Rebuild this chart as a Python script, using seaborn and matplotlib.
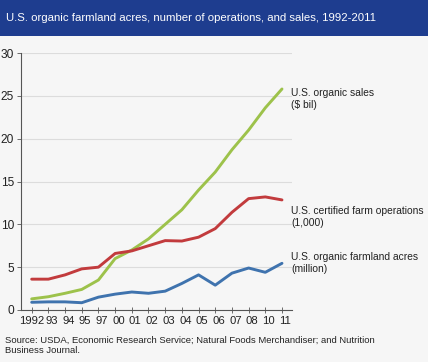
import matplotlib
matplotlib.use("Agg")
import matplotlib.pyplot as plt
import matplotlib.transforms as mtransforms
import pandas as pd
import seaborn as sns

# x-axis categories (uneven years, evenly spaced on the chart)
years = ["1992", "93", "94", "95", "97", "00", "01", "02",
         "03", "04", "05", "06", "07", "08", "10", "11"]

sales = [1.3, 1.55, 1.95, 2.4, 3.5, 6.0, 7.0, 8.3,
         10.0, 11.7, 14.0, 16.1, 18.7, 21.0, 23.6, 25.8]
operations = [3.6, 3.6, 4.1, 4.8, 5.0, 6.6, 6.9, 7.5,
              8.1, 8.05, 8.5, 9.5, 11.4, 13.0, 13.2, 12.85]
acres = [0.9, 0.95, 0.95, 0.85, 1.5, 1.85, 2.1, 1.95,
         2.2, 3.1, 4.1, 2.9, 4.3, 4.9, 4.4, 5.45]

series_names = ["U.S. organic sales\n($ bil)",
                "U.S. certified farm operations\n(1,000)",
                "U.S. organic farmland acres\n(million)"]
colors = ["#9dc24b", "#c23b3d", "#3f73ae"]

rows = []
for name, vals in zip(series_names, [sales, operations, acres]):
    for i, v in enumerate(vals):
        rows.append({"pos": i, "value": v, "series": name})
df = pd.DataFrame(rows)

sns.set_theme(style="white")
plt.rcParams['font.family'] = ['Liberation Sans', 'DejaVu Sans']

fig = plt.figure(figsize=(4.28, 3.62), dpi=100)
fig.patch.set_facecolor("#f6f6f6")

# title banner
fig.patches.append(plt.Rectangle((0, 1 - 36 / 362), 1, 36 / 362, transform=fig.transFigure,
                                 facecolor="#1e3d8f", edgecolor="none", zorder=0))
fig.text(6 / 428, 1 - 18 / 362, "U.S. organic farmland acres, number of operations, and sales, 1992-2011",
         color="white", fontsize=8.2, va="center", ha="left")

ax = fig.add_axes([21 / 428, 1 - 310 / 362, (292 - 21) / 428, (310 - 53) / 362])
ax.set_facecolor("#f6f6f6")

sns.lineplot(data=df, x="pos", y="value", hue="series", palette=colors,
             linewidth=2.1, legend=False, ax=ax)

ax.set_xlim(-0.64, 15.6)
ax.set_ylim(0, 30)
ax.set_yticks([0, 5, 10, 15, 20, 25, 30])
ax.set_xticks(range(len(years)))
ax.set_xticklabels(years)
ax.set_xlabel("")
ax.set_ylabel("")
ax.yaxis.grid(True, color="#dcdcdc", linewidth=0.8)
ax.set_axisbelow(True)
for s in ["top", "right"]:
    ax.spines[s].set_visible(False)
ax.spines["left"].set_color("#555555")
ax.spines["bottom"].set_color("#555555")
ax.spines["left"].set_linewidth(0.8)
ax.spines["bottom"].set_linewidth(0.8)
ax.tick_params(axis="x", direction="inout", length=4, width=0.6, colors="#555555",
               labelcolor="#222222", labelsize=8.1, pad=2)
ax.tick_params(axis="y", direction="out", length=3, width=0.6, colors="#555555",
               labelcolor="#222222", labelsize=8.6, pad=2, left=True)
ax.tick_params(axis="x", bottom=True)

# labels after 1992 sit a few pixels right of their ticks in the original
shift = mtransforms.ScaledTranslation(3.5 / 100, 0, fig.dpi_scale_trans)
for lab in ax.get_xticklabels()[1:]:
    lab.set_transform(lab.get_transform() + shift)

# series labels on the right
label_y = [88, 206, 252]
for name, y in zip(series_names, label_y):
    fig.text(291 / 428, 1 - y / 362, name, fontsize=7.4, color="#222222",
             va="top", ha="left", linespacing=1.2)

fig.text(5 / 428, 1 - 336 / 362,
         "Source: USDA, Economic Research Service; Natural Foods Merchandiser; and Nutrition\nBusiness Journal.",
         fontsize=6.8, color="#222222", va="top", ha="left", linespacing=1.15)

fig.savefig("out.png", dpi=100, facecolor=fig.get_facecolor())
